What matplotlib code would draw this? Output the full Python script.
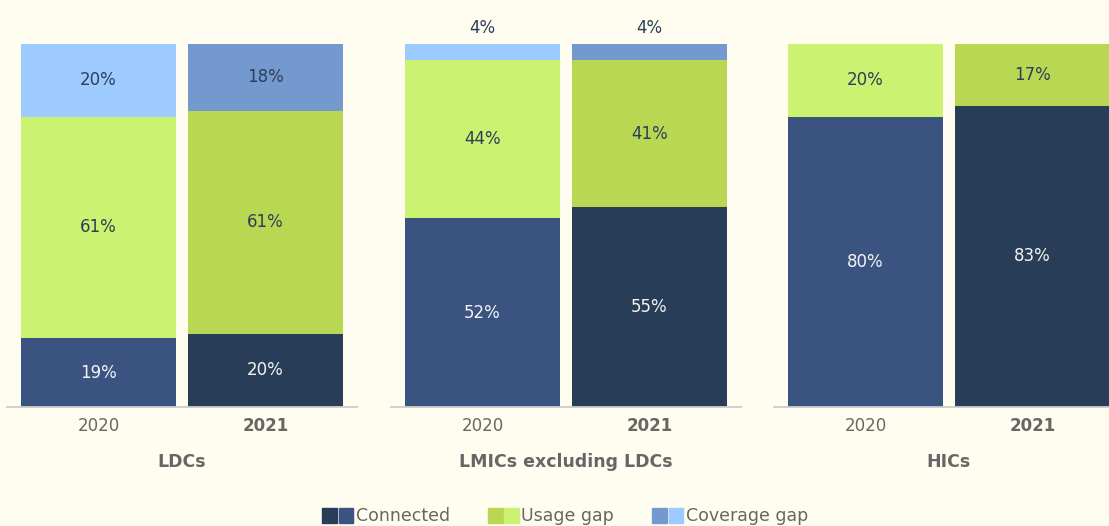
import matplotlib
matplotlib.use("Agg")
from matplotlib import pyplot as plt
from matplotlib.patches import Patch
from matplotlib.legend_handler import HandlerTuple

groups = ["LDCs", "LMICs excluding LDCs", "HICs"]
years = ["2020", "2021"]
# share of population, per group: [2020, 2021]
connected = [[19, 20.2], [52, 55], [80, 83]]
usage_gap = [[61, 61.4], [43.6, 40.6], [20, 17]]
coverage_gap = [[20, 18.4], [4.4, 4.4], [0, 0]]

BG = "#fffdf0"
GREY = "#666666"
colors = {
    "Connected": ["#3a5380", "#283d58"],
    "Usage gap": ["#cbf270", "#bad753"],
    "Coverage gap": ["#9dcbff", "#7499cf"],
}
text_colors = {"Connected": "#f4f4f4", "Usage gap": "#2d3e5a", "Coverage gap": "#2d3e5a"}

fig = plt.figure(figsize=(11.09, 5.26), dpi=100, facecolor=BG)
W, H = 1109, 526
centers = [98.5, 482.5, 865.5]  # pixel x of the 2020 bar in each panel
unit = 167.0
x0, x1 = -0.55, 1.55

for g, name in enumerate(groups):
    left = centers[g] + x0 * unit
    ax = fig.add_axes([left / W, 1 - 407 / H, (x1 - x0) * unit / W, (407 - 44) / H])
    ax.set_facecolor(BG)
    series = [("Connected", connected[g]), ("Usage gap", usage_gap[g]), ("Coverage gap", coverage_gap[g])]
    bottoms = [0, 0]
    for label, vals in series:
        for i, v in enumerate(vals):
            if v <= 0:
                continue
            ax.bar(i, v, width=0.928, bottom=bottoms[i], color=colors[label][i], linewidth=0)
            txt = "%d%%" % round(v)
            if v < 8:
                ax.annotate(txt, (i, bottoms[i] + v), xytext=(0, 5), textcoords="offset points",
                            ha="center", va="bottom", fontsize=12, color=text_colors[label])
            else:
                ax.text(i, bottoms[i] + v / 2, txt, ha="center", va="center",
                        fontsize=12, color=text_colors[label])
            bottoms[i] += v
    ax.set_xlim(x0, x1)
    ax.set_ylim(0, 100)
    ax.set_yticks([])
    ax.set_xticks([0, 1])
    ax.set_xticklabels(years, fontsize=12, color=GREY)
    ax.get_xticklabels()[1].set_fontweight("bold")
    ax.tick_params(axis="x", length=0, pad=7)
    for s in ["top", "right", "left"]:
        ax.spines[s].set_visible(False)
    ax.spines["bottom"].set_color("#cccccc")
    ax.spines["bottom"].set_linewidth(1.3)
    ax.set_xlabel(name, fontsize=12.5, fontweight="bold", color=GREY, labelpad=13)

handles = [(Patch(color=c[1]), Patch(color=c[0])) for c in colors.values()]
fig.legend(handles, list(colors.keys()), loc="center", bbox_to_anchor=(565 / W, 1 - 516 / H),
           ncol=3, frameon=False, fontsize=12.5, labelcolor=GREY,
           handler_map={tuple: HandlerTuple(ndivide=None, pad=0.1)},
           handlelength=1.8, handleheight=0.95, handletextpad=0.12, columnspacing=2.2,
           borderpad=0, borderaxespad=0)

plt.savefig("out.png", dpi=100, facecolor=BG)
